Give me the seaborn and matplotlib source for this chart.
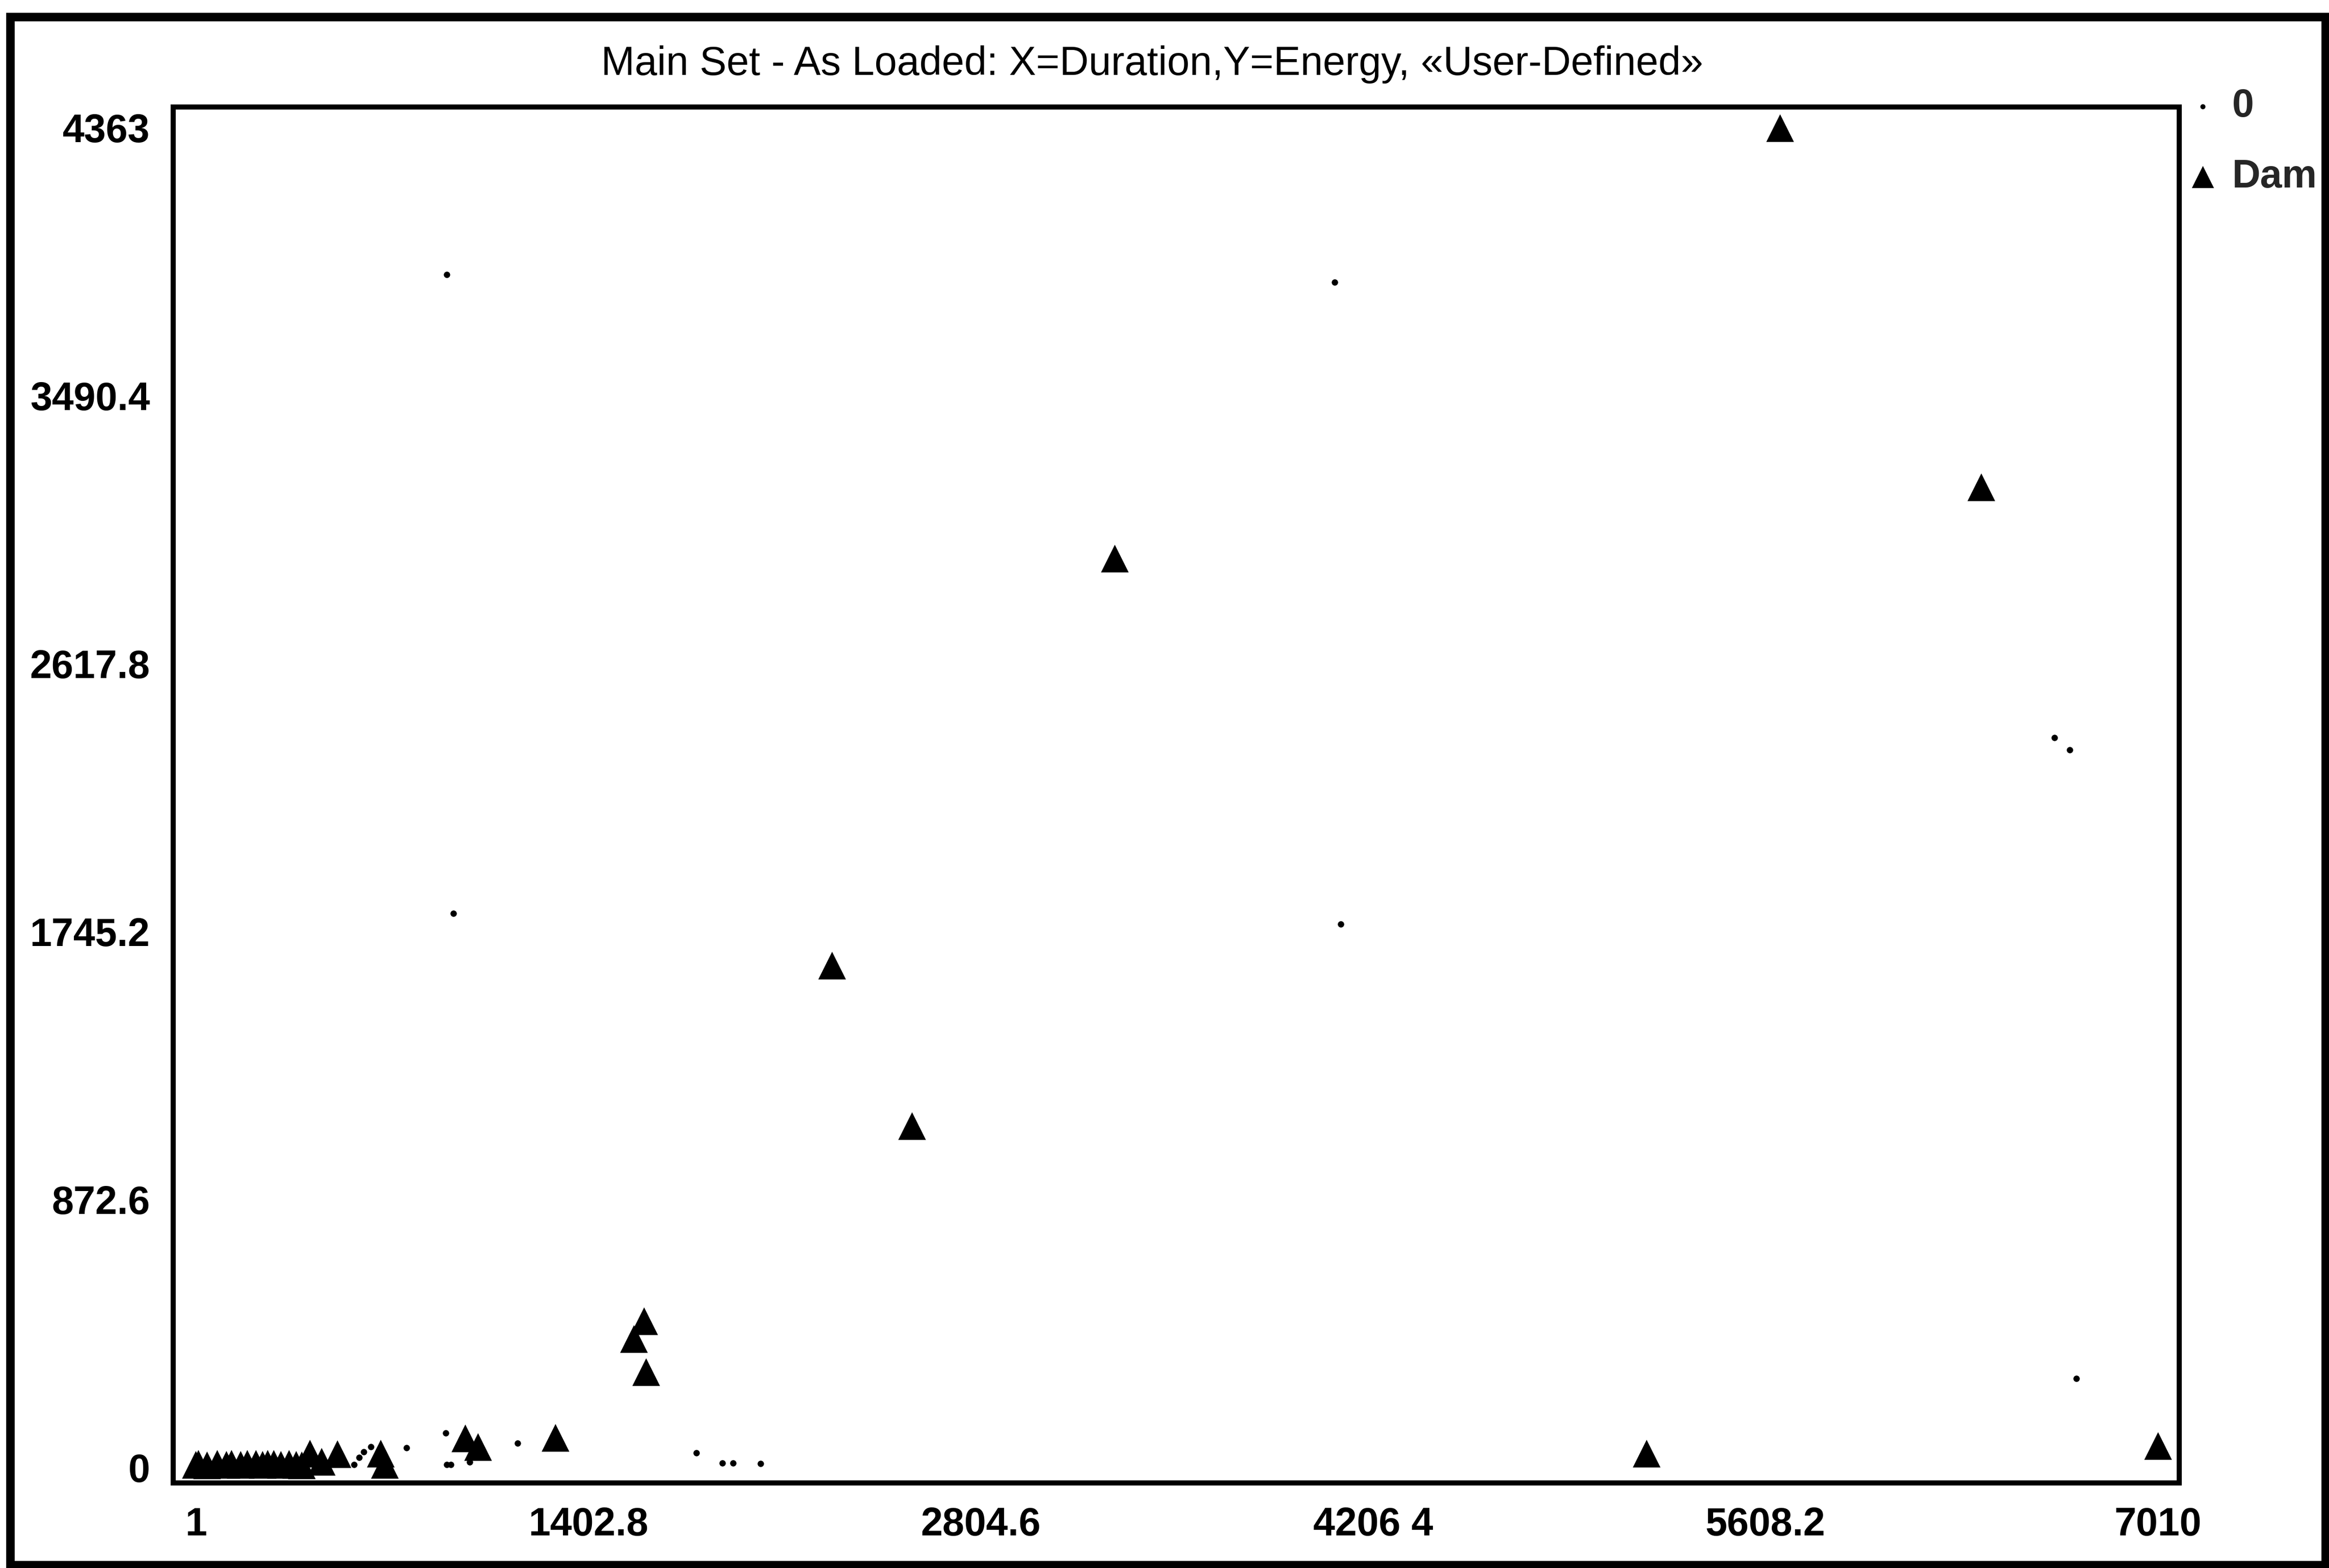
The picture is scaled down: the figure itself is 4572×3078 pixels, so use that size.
import matplotlib
matplotlib.use("Agg")
import matplotlib.pyplot as plt
from matplotlib.patches import Rectangle
import seaborn as sns
import pandas as pd

# Events labelled "Dam" (triangles)
dam_duration = [5659, 6378, 3283, 2273, 2559, 1602, 1566, 1609, 5183, 7010,
                1285, 964, 1008, 661, 676, 408, 506,
                1, 10, 40, 78, 110, 129, 160, 184, 215, 240, 257, 280, 305, 333, 360, 380, 450]
dam_energy = [4363, 3193, 2961, 1636, 1113, 478, 420, 312, 46, 71,
              98, 96, 68, 46, 10, 46, 45,
              10, 12, 8, 13, 9, 13, 10, 13, 13, 9, 13, 13, 10, 13, 9, 8, 20]

# Events labelled "0" (small dots)
zero_duration = [898, 922, 4069, 4091, 6640, 6695, 6719, 1790, 1883, 1921, 2018,
                 895, 1150, 754, 626, 897, 912, 980, 566, 584, 602, 30, 150, 300, 450]
zero_energy = [3885, 1805, 3860, 1770, 2377, 2337, 290, 48, 15, 15, 13,
               113, 80, 65, 68, 10, 10, 18, 10, 32, 51, 5, 8, 12, 6]

x_ticks = [1, 1402.8, 2804.6, 4206.4, 5608.2, 7010]
y_ticks = [0, 872.6, 1745.2, 2617.8, 3490.4, 4363]
x_tick_labels = ["1", "1402.8", "2804.6", "4206 4", "5608.2", "7010"]
y_tick_labels = ["0", "872.6", "1745.2", "2617.8", "3490.4", "4363"]

title_text = "Main Set - As Loaded: X=Duration,Y=Energy, \u00abUser-Defined\u00bb"

sns.set_style("white")
plt.rcParams["font.family"] = ["Liberation Sans", "DejaVu Sans"]

dam = pd.DataFrame({"Duration": dam_duration, "Energy": dam_energy})
zero = pd.DataFrame({"Duration": zero_duration, "Energy": zero_energy})

fig = plt.figure(figsize=(15.24, 10.26), dpi=300)
fig.patch.set_facecolor("white")
ax = fig.add_axes([0.0744, 0.0543, 0.9357 - 0.0744, 0.9318 - 0.0543])

sns.scatterplot(data=zero, x="Duration", y="Energy", marker="o", s=9,
                color="black", linewidth=0, ax=ax, label="0", clip_on=False)
sns.scatterplot(data=dam, x="Duration", y="Energy", marker="^", s=170,
                color="black", linewidth=0, ax=ax, label="Dam", clip_on=False)

ax.set_xlim(-79, 7086)
ax.set_ylim(-50, 4431)
ax.set_xticks(x_ticks)
ax.set_xticklabels(x_tick_labels)
ax.set_yticks(y_ticks)
ax.set_yticklabels(y_tick_labels)
ax.set_xlabel("")
ax.set_ylabel("")

for sp in ax.spines.values():
    sp.set_visible(True)
    sp.set_color("black")
    sp.set_linewidth(2.4)

ax.tick_params(axis="both", direction="in", length=7.5, width=2.6, color="black",
               labelsize=18.5, labelcolor="black", pad=11)
for lab in ax.get_xticklabels() + ax.get_yticklabels():
    lab.set_fontweight("bold")

ax.set_title(title_text, fontsize=19, pad=15, color="black", x=0.488)

leg = ax.legend(loc="upper left", bbox_to_anchor=(1.0, 1.014), frameon=False,
                fontsize=18.5, borderaxespad=0, borderpad=0, handlelength=1.2,
                handletextpad=0.15, labelspacing=0.85, markerscale=0.8)
for t in leg.get_texts():
    t.set_fontweight("bold")

# window frame around the whole chart
fig.patches.append(Rectangle((0.0044, 0.002), 0.9941, 0.9873, transform=fig.transFigure,
                             fill=False, edgecolor="black", linewidth=4.0))

fig.savefig("out.png", dpi=300, facecolor="white")
